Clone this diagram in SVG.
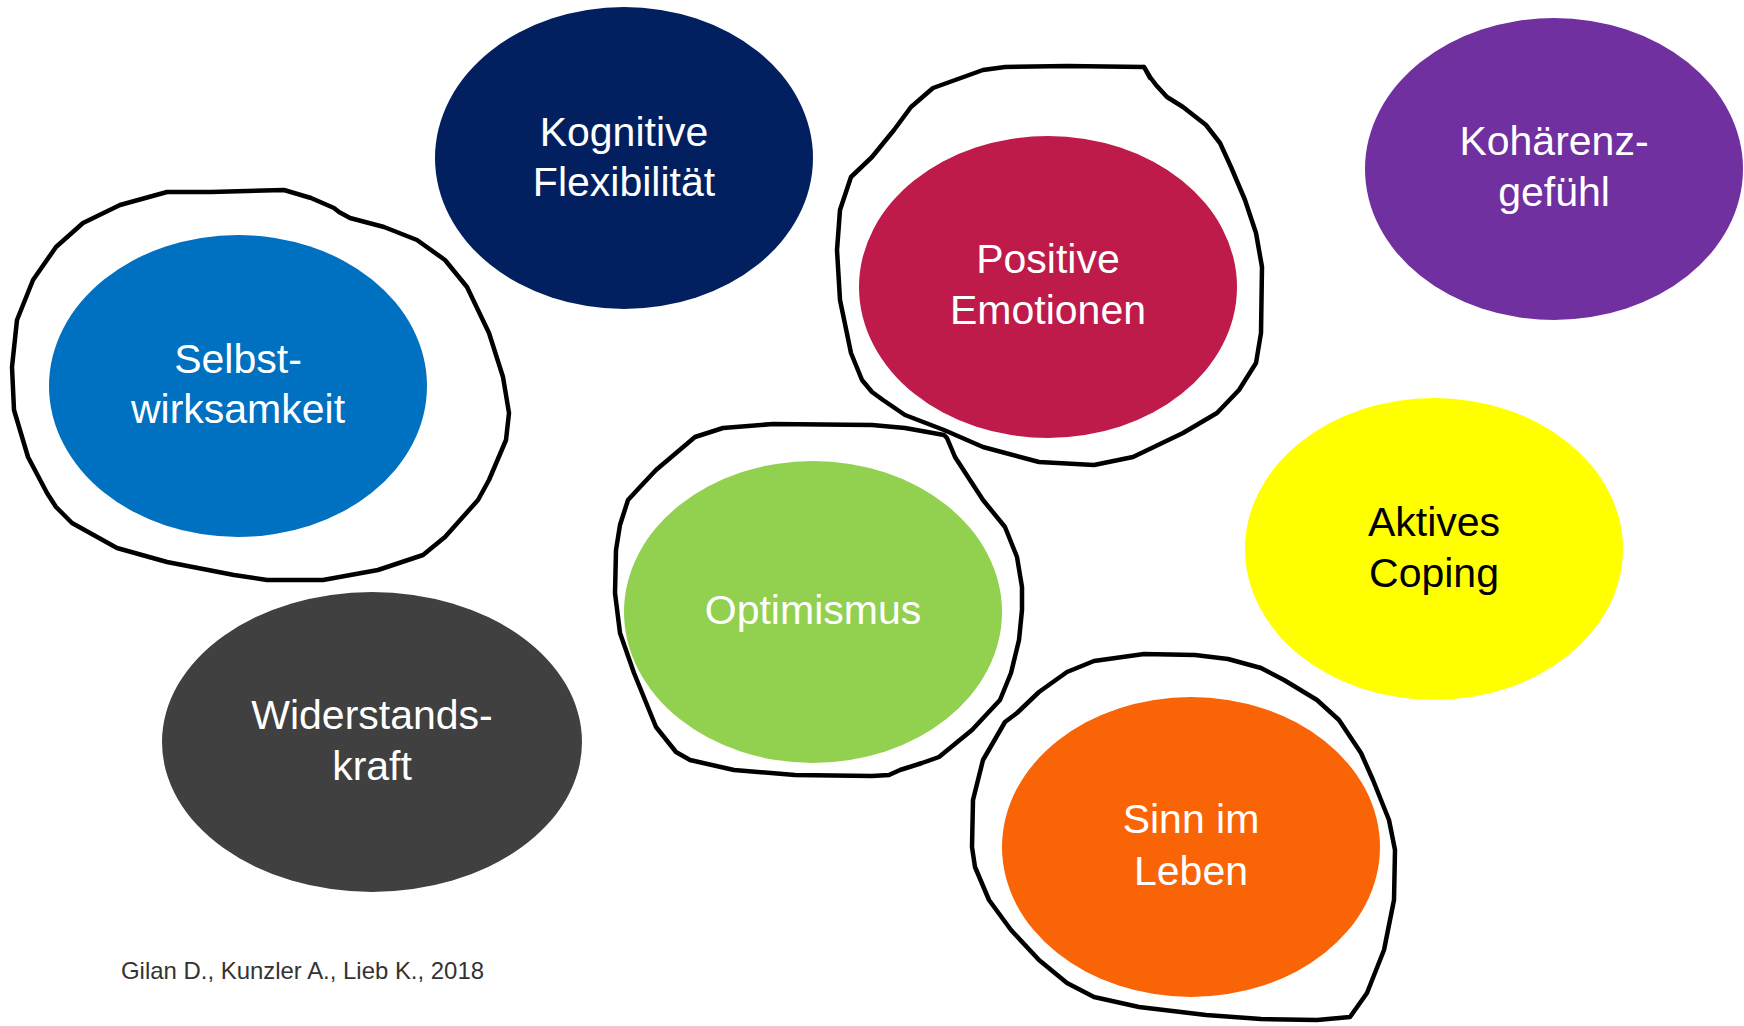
<svg xmlns="http://www.w3.org/2000/svg" width="1744" height="1026" viewBox="0 0 1744 1026">
<style>
.lbl{font-family:"Liberation Sans",Arial,sans-serif;font-size:41px;fill:#fff;text-anchor:middle}
.dark{fill:#000}
.hand{fill:none;stroke:#000;stroke-width:4.5;stroke-linejoin:round;stroke-linecap:round}
.cite{font-family:"Liberation Sans",Arial,sans-serif;font-size:24px;fill:#333}
</style>
<rect width="1744" height="1026" fill="#fff"/>
<g id="node-kognitive">
<ellipse cx="624" cy="158" rx="189" ry="151" fill="#02205F"/>
<text class="lbl" x="624" y="146">Kognitive</text>
<text class="lbl" x="624" y="196">Flexibilität</text>
</g>
<g id="node-selbstwirksamkeit">
<ellipse cx="238" cy="386" rx="189" ry="151" fill="#0070C0"/>
<text class="lbl" x="238" y="373">Selbst-</text>
<text class="lbl" x="238" y="423">wirksamkeit</text>
</g>
<g id="node-positive">
<ellipse cx="1048" cy="287" rx="189" ry="151" fill="#BE1A4A"/>
<text class="lbl" x="1048" y="273">Positive</text>
<text class="lbl" x="1048" y="324">Emotionen</text>
</g>
<g id="node-kohaerenz">
<ellipse cx="1554" cy="169" rx="189" ry="151" fill="#7030A0"/>
<text class="lbl" x="1554" y="155">Kohärenz-</text>
<text class="lbl" x="1554" y="206">gefühl</text>
</g>
<g id="node-aktives">
<ellipse cx="1434" cy="549" rx="189" ry="151" fill="#FFFF00"/>
<text class="lbl dark" x="1434" y="536">Aktives</text>
<text class="lbl dark" x="1434" y="587">Coping</text>
</g>
<g id="node-optimismus">
<ellipse cx="813" cy="612" rx="189" ry="151" fill="#92D050"/>
<text class="lbl" x="813" y="624">Optimismus</text>
</g>
<g id="node-widerstand">
<ellipse cx="372" cy="742" rx="210" ry="150" fill="#404040"/>
<text class="lbl" x="372" y="729">Widerstands-</text>
<text class="lbl" x="372" y="780">kraft</text>
</g>
<g id="node-sinn">
<ellipse cx="1191" cy="847" rx="189" ry="150" fill="#F96506"/>
<text class="lbl" x="1191" y="833">Sinn im</text>
<text class="lbl" x="1191" y="885">Leben</text>
</g>
<g id="highlights">
<path class="hand" d="M284,190 L211,192 L167,192 L120,205 L83,223 L56,247 L33,280 L17,320 L12,367 L14,410 L28,457 L47,493 L56,507 L72,523 L117,548 L167,562 L234,575 L267,580 L323,580 L378,570 L423,555 L445,537 L478,500 L489,480 L506,440 L509,413 L503,377 L489,333 L467,287 L445,260 L417,240 L384,227 L350,218 L339,212 L334,208 L311,198 Z"/>
<path class="hand" d="M1144,67 L1067,66 L1005,67 L983,70 L933,88 L911,107 L894,130 L872,157 L851,177 L840,210 L837,250 L840,300 L851,353 L862,380 L872,392 L883,400 L905,415 L944,430 L983,447 L1039,462 L1094,465 L1133,457 L1183,433 L1217,413 L1239,390 L1256,363 L1261,333 L1262,267 L1256,233 L1245,200 L1231,167 L1220,143 L1206,125 L1183,107 L1167,97 L1156,85 L1150,77 L1144,67 L1150,78"/>
<path class="hand" d="M616,550 L620,525 L628,500 L640,487 L656,470 L695,437 L723,428 L773,424 L872,425 L905,428 L944,435 L947,438 L955,457 L983,500 L1005,527 L1017,557 L1022,587 L1022,610 L1019,640 L1011,673 L1000,700 L972,730 L939,757 L922,763 L900,770 L889,775 L872,776 L795,775 L734,770 L690,760 L676,752 L656,727 L634,673 L620,633 L615,593 Z"/>
<path class="hand" d="M1144,654 L1195,655 L1228,659 L1261,668 L1284,680 L1317,700 L1339,720 L1361,753 L1373,780 L1389,820 L1395,850 L1394,900 L1384,950 L1367,993 L1350,1017 L1317,1020 L1261,1019 L1206,1015 L1139,1007 L1094,997 L1067,983 L1039,960 L1011,930 L989,900 L975,867 L972,847 L973,800 L983,760 L1005,722 L1017,713 L1039,692 L1067,672 L1094,661 Z"/>
</g>
<text class="cite" x="121" y="979" textLength="363" lengthAdjust="spacingAndGlyphs">Gilan D., Kunzler A., Lieb K., 2018</text>
</svg>
